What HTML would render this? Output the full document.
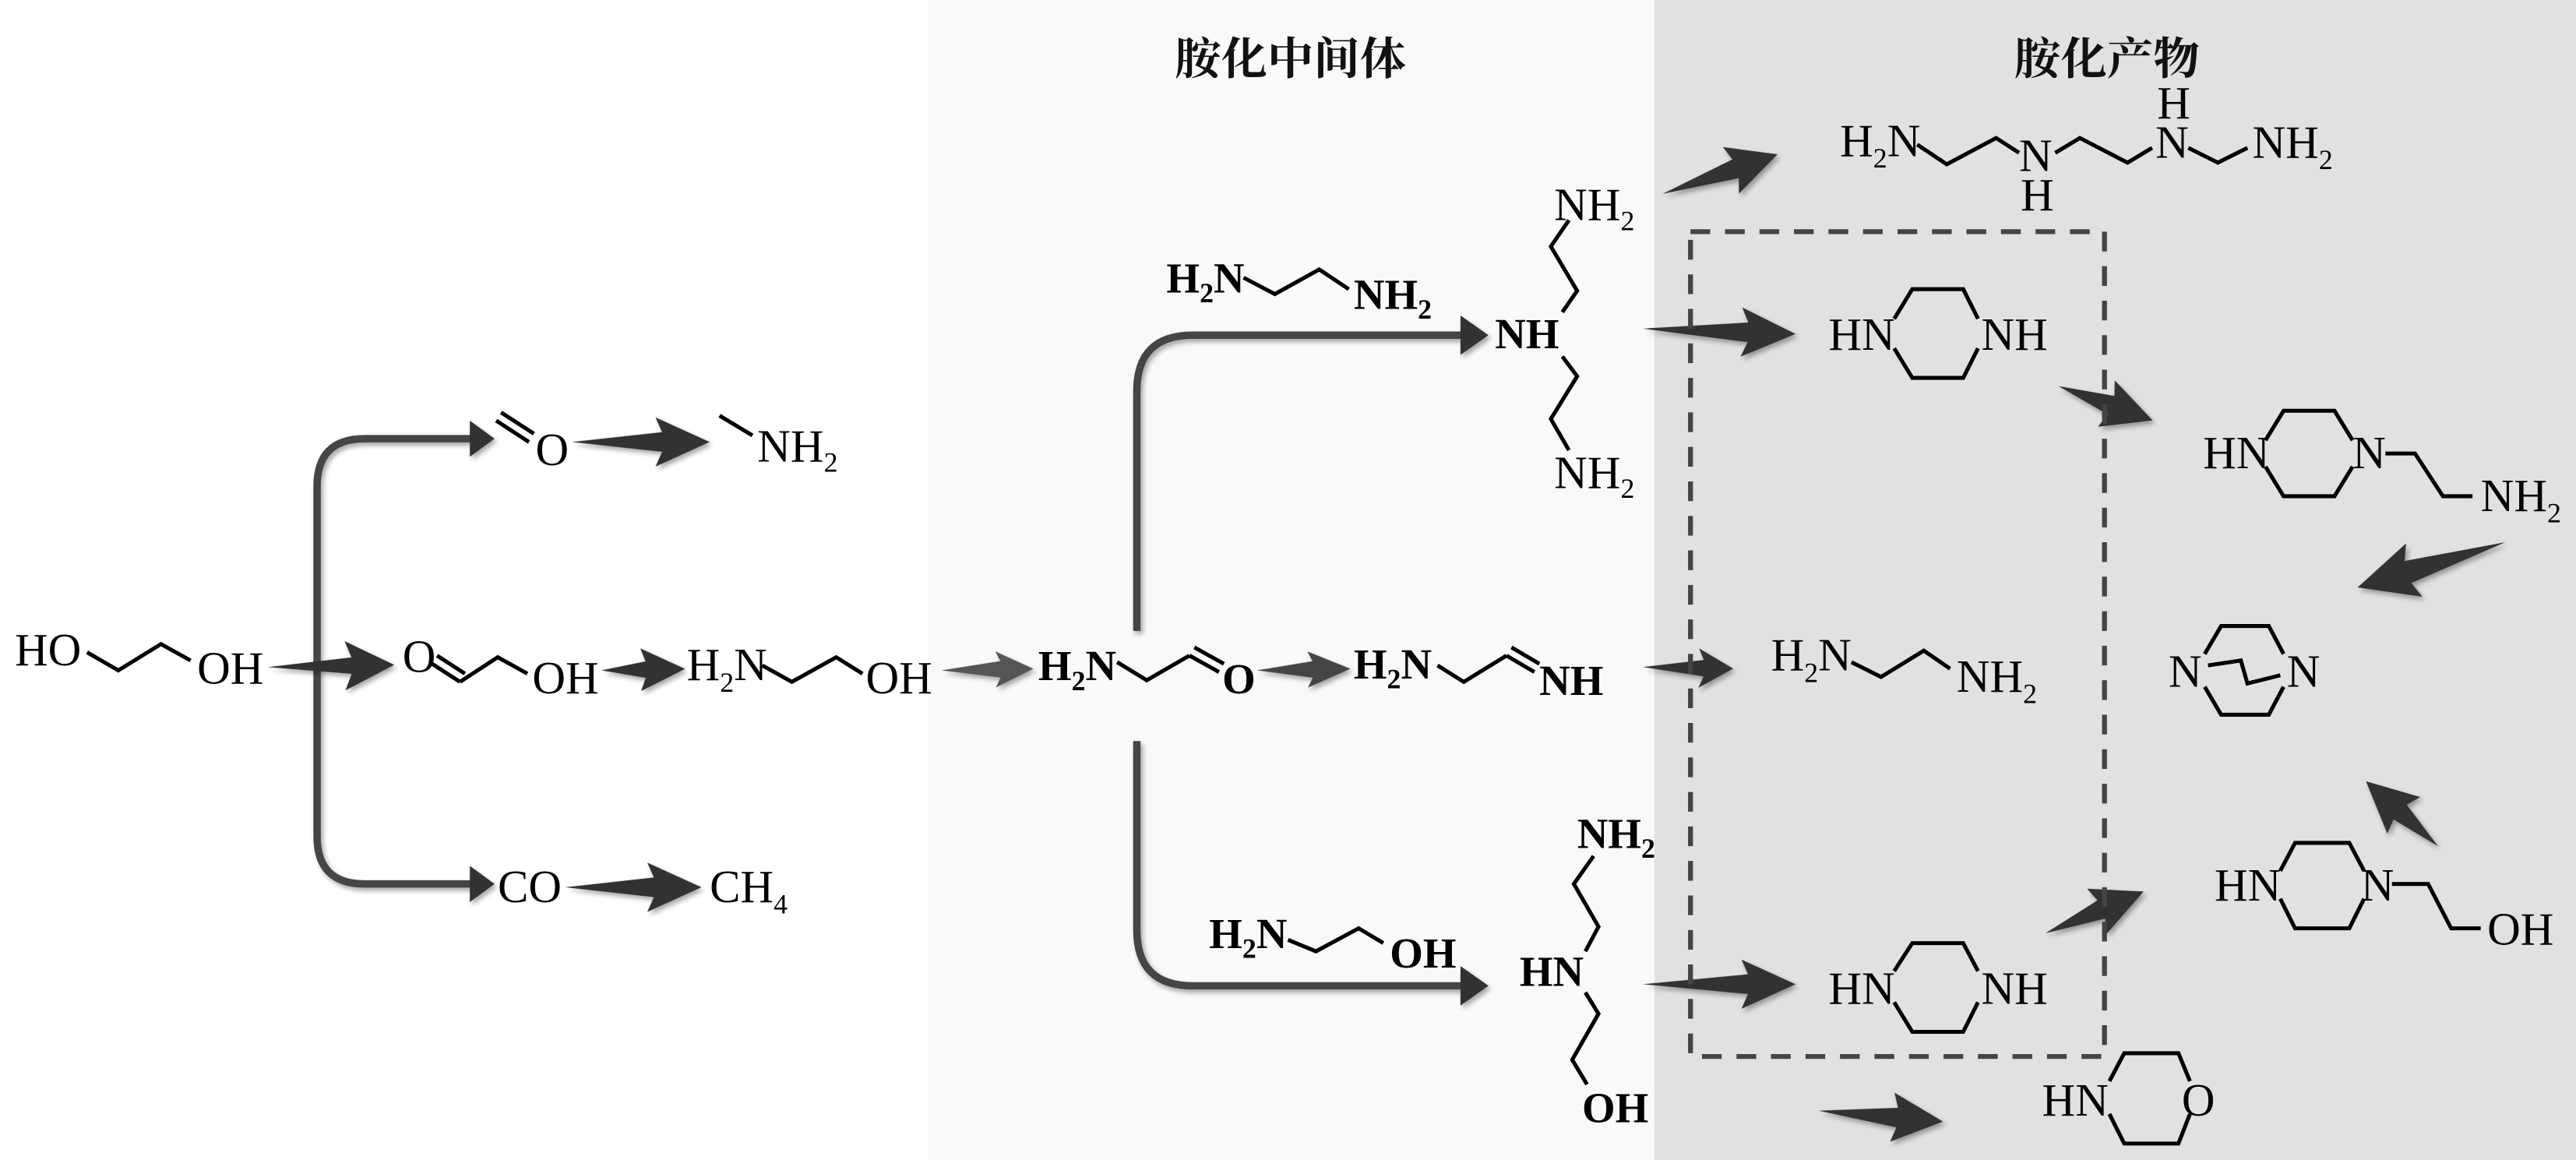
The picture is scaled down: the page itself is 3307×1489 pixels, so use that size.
<!DOCTYPE html>
<html><head><meta charset="utf-8"><style>
html,body{margin:0;padding:0;background:#fff}
svg{display:block}
.t{font-family:"Liberation Serif","Noto Serif CJK SC",serif;font-size:28px;fill:#000}
.b{font-family:"Liberation Serif","Noto Serif CJK SC",serif;font-size:26px;font-weight:bold;fill:#000}
.h{font-family:"Noto Serif CJK SC","Noto Sans CJK SC",serif;font-size:27px;font-weight:bold;fill:#111}
.s{font-size:17px}
.bd{fill:none;stroke:#000;stroke-width:2.4;stroke-linejoin:miter}
.ar{fill:#333}
.cn{fill:none;stroke:#444;stroke-width:4.5}
</style></head><body>
<svg width="3307" height="1489" viewBox="0 0 1568 706" xmlns="http://www.w3.org/2000/svg">
<defs>
<filter id="sh" x="-20%" y="-50%" width="140%" height="200%"><feGaussianBlur in="SourceAlpha" stdDeviation="1.5"/><feOffset dx="1.5" dy="2"/><feComponentTransfer><feFuncA type="linear" slope="0.35"/></feComponentTransfer><feMerge><feMergeNode/><feMergeNode in="SourceGraphic"/></feMerge></filter>
</defs>
<rect x="0" y="0" width="565" height="706" fill="#ffffff"/>
<rect x="565" y="0" width="442" height="706" fill="#f9f9f9"/>
<rect x="1007" y="0" width="561" height="706" fill="#e1e1e1"/>

<text class="h" x="715" y="45" textLength="141" lengthAdjust="spacingAndGlyphs">胺化中间体</text>
<text class="h" x="1226" y="45" textLength="113" lengthAdjust="spacingAndGlyphs">胺化产物</text>

<g filter="url(#sh)">
<path class="cn" d="M290,267 H222 Q193,267 193,296 V509 Q193,538 222,538 H290"/>
<polygon class="ar" points="286,256 301,267 286,278"/>
<polygon class="ar" points="286,527 301,538 286,549"/>
<path class="cn" d="M692,384 V238 Q692,204 726,204 H893"/>
<polygon class="ar" points="889,192 906,204 889,216"/>
<path class="cn" d="M692,451 V566 Q692,600 726,600 H893"/>
<polygon class="ar" points="889,588 906,600 889,612"/>
</g>

<g filter="url(#sh)">
<path class="ar" transform="translate(163,406) rotate(-1)" d="M0,0 L51,-5 L47,-15 L77,0 L47,15 L51,5Z"/>
<path class="ar" transform="translate(348,269) rotate(0)" d="M0,0 L55,-6 L51,-15 L84,0 L51,15 L55,6Z"/>
<path class="ar" transform="translate(366,408) rotate(-1)" d="M0,0 L27,-5 L24,-13 L51,0 L24,13 L27,5Z"/>
<path fill="#555" transform="translate(573,408) rotate(-1)" d="M0,0 L36,-5 L33,-11 L56,0 L33,11 L36,5Z"/>
<path fill="#444" transform="translate(765,408) rotate(-1)" d="M0,0 L34,-5 L31,-11 L57,0 L31,11 L34,5Z"/>
<path class="ar" transform="translate(344,540) rotate(0)" d="M0,0 L54,-6 L50,-15 L83,0 L50,15 L54,6Z"/>
<path class="ar" transform="translate(1012,118) rotate(-19)" d="M0,0 L47,-6 L44,-15 L74,0 L44,15 L47,6Z"/>
<path class="ar" transform="translate(1000,200) rotate(2)" d="M0,0 L64,-6 L60,-15 L93,0 L60,15 L64,6Z"/>
<path class="ar" transform="translate(1000,406) rotate(1)" d="M0,0 L37,-5 L34,-12 L55,0 L34,12 L37,5Z"/>
<path class="ar" transform="translate(1000,599) rotate(0)" d="M0,0 L64,-6 L60,-15 L93,0 L60,15 L64,6Z"/>
<path class="ar" transform="translate(1107,676) rotate(5)" d="M0,0 L48,-6 L45,-15 L76,0 L45,15 L48,6Z"/>
<path class="ar" transform="translate(1253,235) rotate(20)" d="M0,0 L34,-6 L31,-15 L61,0 L31,15 L34,6Z"/>
<path class="ar" transform="translate(1525,330) rotate(163)" d="M0,0 L62,-7 L58,-17 L94,0 L58,17 L62,7Z"/>
<path class="ar" transform="translate(1484,515) rotate(-138)" d="M0,0 L31,-6 L28,-15 L59,0 L28,15 L31,6Z"/>
<path class="ar" transform="translate(1245,568) rotate(-23)" d="M0,0 L37,-6 L34,-15 L65,0 L34,15 L37,6Z"/>
</g>

<text class="t" x="9" y="405">HO</text>
<polyline class="bd" points="53,397 72,408 98,392 116,402"/>
<text class="t" x="120" y="416">OH</text>

<line class="bd" x1="302" y1="256" x2="322" y2="269"/>
<line class="bd" x1="305" y1="251" x2="325" y2="264"/>
<text class="t" x="326" y="283">O</text>
<line class="bd" x1="438" y1="253" x2="458" y2="265"/>
<text class="t" x="461" y="281">NH<tspan class="s" dy="6">2</tspan></text>

<text class="t" x="245" y="409">O</text>
<line class="bd" x1="263" y1="404" x2="280" y2="415"/>
<line class="bd" x1="266" y1="399" x2="283" y2="410"/>
<polyline class="bd" points="280,415 303,400 321,410"/>
<text class="t" x="324" y="422">OH</text>

<text class="t" x="418" y="414">H<tspan class="s" dy="7">2</tspan><tspan dy="-7">N</tspan></text>
<polyline class="bd" points="464,405 482,415 509,400 525,410"/>
<text class="t" x="527" y="422">OH</text>

<text class="t" x="303" y="549">CO</text>
<text class="t" x="432" y="549">CH<tspan class="s" dy="7">4</tspan></text>

<text class="b" x="710" y="178">H<tspan class="s" dy="6">2</tspan><tspan dy="-6">N</tspan></text>
<polyline class="bd" points="757,169 776,179 803,164 821,176"/>
<text class="b" x="824" y="188">NH<tspan class="s" dy="6">2</tspan></text>

<text class="b" x="910" y="212">NH</text>
<polyline class="bd" points="951,190 960,177 944,150 955,134"/>
<text class="t" x="946" y="134">NH<tspan class="s" dy="6">2</tspan></text>
<polyline class="bd" points="951,217 960,229 944,255 955,274"/>
<text class="t" x="946" y="297">NH<tspan class="s" dy="6">2</tspan></text>

<text class="b" x="632" y="414">H<tspan class="s" dy="6">2</tspan><tspan dy="-6">N</tspan></text>
<polyline class="bd" points="680,403 698,414 724,399"/>
<line class="bd" x1="724" y1="399" x2="742" y2="409"/>
<line class="bd" x1="727" y1="394" x2="745" y2="404"/>
<text class="b" x="744" y="422">O</text>

<text class="b" x="824" y="413">H<tspan class="s" dy="6">2</tspan><tspan dy="-6">N</tspan></text>
<polyline class="bd" points="875,405 891,415 917,399"/>
<line class="bd" x1="917" y1="399" x2="934" y2="409"/>
<line class="bd" x1="920" y1="394" x2="937" y2="404"/>
<text class="b" x="937" y="423">NH</text>

<text class="b" x="736" y="577">H<tspan class="s" dy="6">2</tspan><tspan dy="-6">N</tspan></text>
<polyline class="bd" points="784,572 801,579 827,565 842,574"/>
<text class="b" x="846" y="589">OH</text>

<text class="b" x="925" y="600">HN</text>
<polyline class="bd" points="965,579 973,564 958,538 970,521"/>
<text class="b" x="960" y="516">NH<tspan class="s" dy="6">2</tspan></text>
<polyline class="bd" points="965,604 973,617 957,645 966,660"/>
<text class="b" x="963" y="683">OH</text>

<path d="M1029,141 H1281 V643 H1029 Z" fill="none" stroke="#444" stroke-width="3" stroke-dasharray="12,9"/>

<text class="t" x="1120" y="95">H<tspan class="s" dy="7">2</tspan><tspan dy="-7">N</tspan></text>
<polyline class="bd" points="1167,88 1185,100 1215,84 1229,93"/>
<text class="t" x="1229" y="104">N</text>
<text class="t" x="1230" y="128">H</text>
<polyline class="bd" points="1251,93 1266,84 1295,99 1310,90"/>
<text class="t" x="1312" y="96">N</text>
<text class="t" x="1313" y="72">H</text>
<polyline class="bd" points="1332,90 1350,99 1368,90"/>
<text class="t" x="1371" y="96">NH<tspan class="s" dy="7">2</tspan></text>

<text class="t" x="1113" y="213">HN</text>
<polyline class="bd" points="1153,194 1164,176 1195,176 1204,194"/>
<polyline class="bd" points="1153,212 1164,230 1195,230 1204,212"/>
<text class="t" x="1206" y="213">NH</text>

<text class="t" x="1341" y="285">HN</text>
<polyline class="bd" points="1379,268 1390,250 1421,250 1432,268"/>
<polyline class="bd" points="1379,284 1390,302 1421,302 1432,284"/>
<text class="t" x="1432" y="285">N</text>
<polyline class="bd" points="1452,276 1470,276 1487,302 1505,302"/>
<text class="t" x="1510" y="311">NH<tspan class="s" dy="7">2</tspan></text>

<text class="t" x="1078" y="408">H<tspan class="s" dy="7">2</tspan><tspan dy="-7">N</tspan></text>
<polyline class="bd" points="1127,403 1145,412 1171,396 1187,407"/>
<text class="t" x="1191" y="421">NH<tspan class="s" dy="7">2</tspan></text>

<text class="t" x="1320" y="418">N</text>
<polyline class="bd" points="1342,398 1352,381 1381,381 1390,398"/>
<polyline class="bd" points="1342,418 1352,435 1381,435 1390,418"/>
<polyline class="bd" points="1344,405 1364,402 1368,416 1388,411"/>
<text class="t" x="1392" y="418">N</text>

<text class="t" x="1348" y="548">HN</text>
<polyline class="bd" points="1388,530 1397,513 1430,513 1439,530"/>
<polyline class="bd" points="1388,547 1397,565 1430,565 1439,547"/>
<text class="t" x="1437" y="548">N</text>
<polyline class="bd" points="1456,538 1478,538 1492,565 1510,565"/>
<text class="t" x="1514" y="575">OH</text>

<text class="t" x="1113" y="611">HN</text>
<polyline class="bd" points="1153,591 1164,574 1195,574 1204,591"/>
<polyline class="bd" points="1153,610 1164,628 1195,628 1204,610"/>
<text class="t" x="1206" y="611">NH</text>

<text class="t" x="1243" y="679">HN</text>
<polyline class="bd" points="1284,658 1293,641 1326,641 1333,658"/>
<polyline class="bd" points="1284,678 1293,696 1326,696 1333,678"/>
<text class="t" x="1328" y="679">O</text>
</svg>
</body></html>
